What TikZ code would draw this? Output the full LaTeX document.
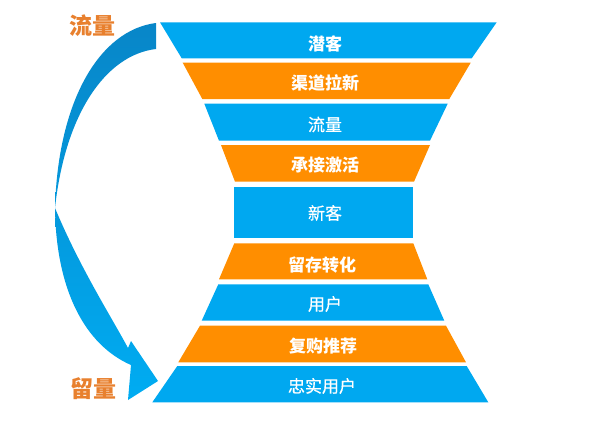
\documentclass[tikz,border=0pt]{standalone}
\usepackage{fontspec}
\newfontfamily\cjk{Noto Sans CJK SC}
\newfontfamily\cjkmed[FakeBold=0.5]{Noto Sans CJK SC}
\definecolor{fblue}{RGB}{0,168,240}
\definecolor{forange}{RGB}{255,142,0}
\definecolor{lblorange}{RGB}{232,128,46}
\definecolor{adark}{RGB}{8,134,200}
\definecolor{alight}{RGB}{0,172,242}
\tikzset{
  rowtext/.style={text=white,font=\cjkmed\fontsize{17}{17}\selectfont,inner sep=0pt},
  rowbold/.style={rowtext,font=\cjk\bfseries\fontsize{17}{17}\selectfont},
  sidelabel/.style={text=lblorange,font=\cjk\bfseries\fontsize{23}{23}\selectfont,inner sep=0pt},
}
\begin{document}
\begin{tikzpicture}[x=1pt,y=-1pt]
\useasboundingbox (0,0) rectangle (599,421);
% arrow
\shade[top color=adark,bottom color=alight,shading angle=0]
  (156,23) .. controls (100,30) and (58,100) .. (55,208)
  .. controls (56,290) and (85,345) .. (131,365)
  -- (128,400) -- (158,381) -- (131,341) -- (128,348)
  .. controls (112,318) and (80,268) .. (55,208)
  .. controls (65,115) and (105,55) .. (156,49) -- cycle;
% rows
\fill[fblue]   (160,22.3) -- (496.7,22.3) -- (471.7,58.3) -- (181.7,58.3) -- cycle;
\fill[forange] (182.7,62.7) -- (470.7,62.7) -- (449.3,99) -- (202.3,99) -- cycle;
\fill[fblue]   (204.3,103.7) -- (447.7,103.7) -- (430,140.7) -- (219,140.7) -- cycle;
\fill[forange] (221,145) -- (430,145) -- (414,181.7) -- (235,181.7) -- cycle;
\fill[fblue]   (234.3,186.7) rectangle (413.3,237.7);
\fill[forange] (234.3,243.3) -- (413.3,243.3) -- (427.3,279.3) -- (219,279.3) -- cycle;
\fill[fblue]   (218.3,284.3) -- (428.3,284.3) -- (444.3,320.7) -- (201.7,320.7) -- cycle;
\fill[forange] (200,325.7) -- (446,325.7) -- (466,362.3) -- (178.3,362.3) -- cycle;
\fill[fblue]   (177.3,366) -- (466.7,366) -- (488.3,402.3) -- (152.3,402.3) -- cycle;
% texts
\node[rowbold] (t1) at (325,43.5) {潜客};
\node[rowbold] (t2) at (325,83) {渠道拉新};
\node[rowtext] (t3) at (325,124.5) {流量};
\node[rowbold] (t4) at (325,165.5) {承接激活};
\node[rowtext] (t5) at (325,213) {新客};
\node[rowbold] (t6) at (322,265.5) {留存转化};
\node[rowtext] (t7) at (325,304) {用户};
\node[rowbold] (t8) at (323,346) {复购推荐};
\node[rowtext] (t9) at (322,386) {忠实用户};
\node[sidelabel] (l1) at (92.5,26) {流量};
\node[sidelabel] (l2) at (93.5,388.5) {留量};
\end{tikzpicture}
\end{document}
